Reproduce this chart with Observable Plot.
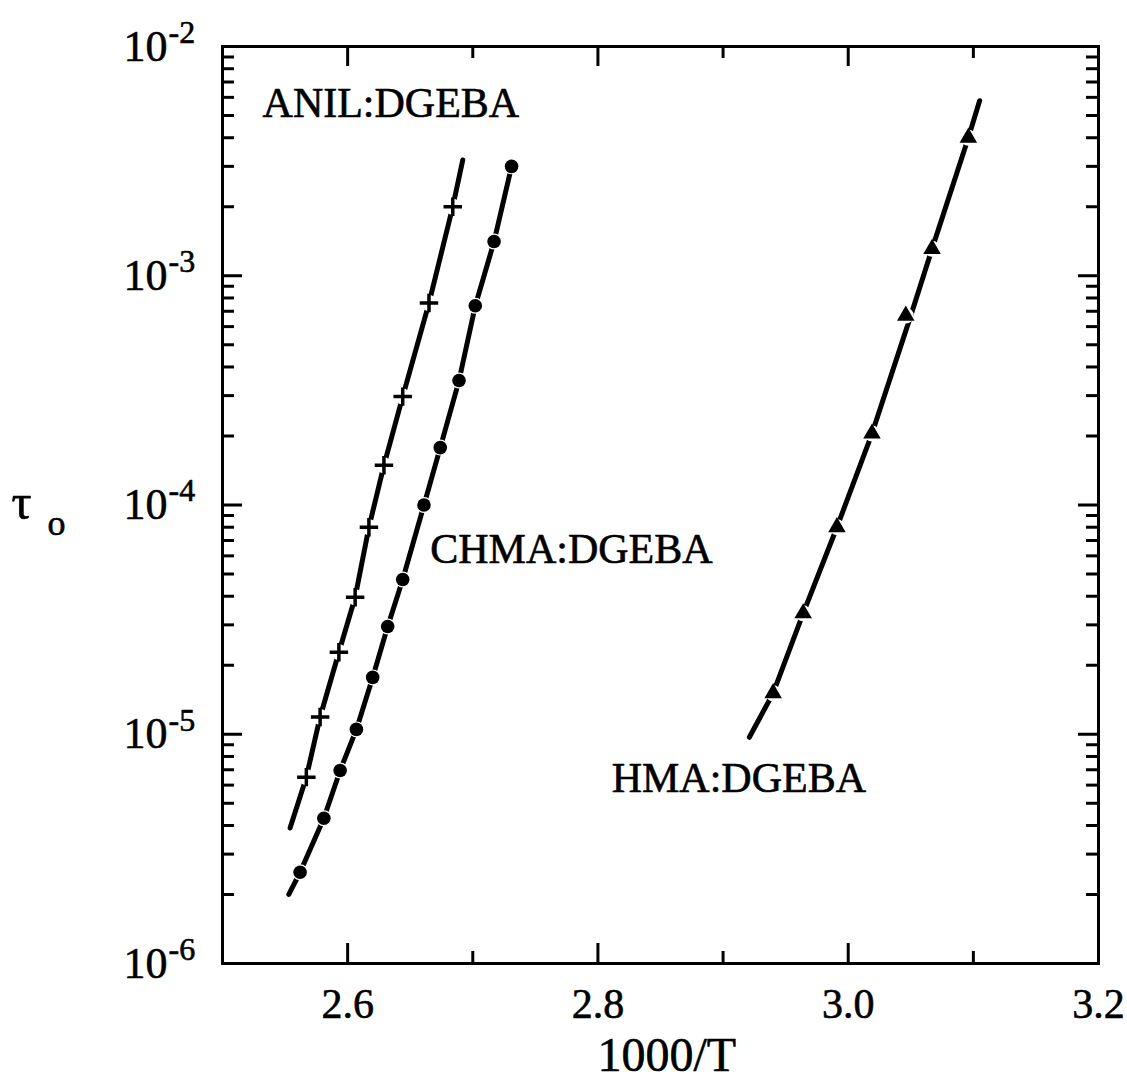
<!DOCTYPE html>
<html><head><meta charset="utf-8">
<script src="https://cdn.jsdelivr.net/npm/d3@7"></script>
<script src="https://cdn.jsdelivr.net/npm/@observablehq/plot@0.6"></script>
<style>body{margin:0;background:#fff} svg{display:block}</style>
</head><body><div id="chart"></div>
<script>
// ---- data ----
const anilX = [2.567, 2.578, 2.593, 2.606, 2.617, 2.629, 2.644, 2.665, 2.684];
const anilY = [6.5e-6, 1.19e-5, 2.28e-5, 3.96e-5, 8.0e-5, 1.49e-4, 2.97e-4, 7.6e-4, 2.0e-3];
const anilLineX = [2.554, 2.567, 2.578, 2.593, 2.606, 2.617, 2.629, 2.644, 2.665, 2.684, 2.692];
const anilLineY = [3.9e-6, 6.5e-6, 1.19e-5, 2.28e-5, 3.96e-5, 8.0e-5, 1.49e-4, 2.97e-4, 7.6e-4, 2.0e-3, 3.2e-3];

const chmaX = [2.562, 2.581, 2.594, 2.607, 2.620, 2.632, 2.644, 2.661, 2.674, 2.689, 2.702, 2.717, 2.731];
const chmaY = [2.5e-6, 4.3e-6, 6.95e-6, 1.05e-5, 1.77e-5, 2.95e-5, 4.73e-5, 1.0e-4, 1.78e-4, 3.49e-4, 7.4e-4, 1.41e-3, 3.0e-3];
const chmaLineX = [2.553, 2.562, 2.581, 2.594, 2.607, 2.620, 2.632, 2.644, 2.661, 2.674, 2.689, 2.702, 2.717, 2.731];
const chmaLineY = [2.0e-6, 2.5e-6, 4.3e-6, 6.95e-6, 1.05e-5, 1.77e-5, 2.95e-5, 4.73e-5, 1.0e-4, 1.78e-4, 3.49e-4, 7.4e-4, 1.41e-3, 3.0e-3];

const hmaX = [2.940, 2.964, 2.991, 3.019, 3.046, 3.067, 3.096];
const hmaY = [1.51e-5, 3.37e-5, 8.0e-5, 2.05e-4, 6.7e-4, 1.31e-3, 4.0e-3];
const hmaLineX = [2.921, 2.940, 2.964, 2.991, 3.019, 3.050, 3.067, 3.096, 3.105];
const hmaLineY = [9.7e-6, 1.51e-5, 3.37e-5, 8.0e-5, 2.05e-4, 6.7e-4, 1.31e-3, 4.0e-3, 5.8e-3];

const seriesNames = ["ANIL:DGEBA", "CHMA:DGEBA", "HMA:DGEBA"];
const labelX = [2.532, 2.666, 2.811];
const labelY = [5.64e-3, 6.4e-5, 6.44e-6];

// ticks and tick labels
const xMajorTicks = [2.6, 2.8, 3.0];
const xMinorTicks = [2.7, 2.9, 3.1];
const xLabelValues = [2.6, 2.8, 3.0, 3.2];
const xLabels = ["2.6", "2.8", "3.0", "3.2"];
const yMajorTicks = [1e-5, 1e-4, 1e-3];
const yMinorTicks = [];
for (let e = -6; e < -2; e++) for (let m = 2; m <= 9; m++) yMinorTicks.push(m * Math.pow(10, e));
const yLabelValues = [1e-6, 1e-5, 1e-4, 1e-3, 1e-2];
const yLabelBase = ["10", "10", "10", "10", "10"];
const yLabelExp = ["-6", "-5", "-4", "-3", "-2"];
const xTitle = "1000/T";
const xTitleAt = 2.855;
const yTitle = "τ";
const yTitleSub = "o";
const yTitleAt = 1e-4;

// ---- layout ----
const W = 1127, H = 1081;
const mL = 222, mR = 29, mT = 46, mB = 118;
const pw = W - mL - mR, ph = H - mT - mB;
const font = "'Liberation Serif', 'Times New Roman', serif";
const majLen = 20, minLen = 12, tw = 3;
const ts = {fill: "black", stroke: "black", strokeWidth: 0.6};

const pts = (xs, ys) => xs.map((x, i) => ({x, y: ys[i]}));
const anil = pts(anilX, anilY), chma = pts(chmaX, chmaY), hma = pts(hmaX, hmaY);
const allMarkers = [...anil, ...chma, ...hma];
const labels = seriesNames.map((t, i) => ({t, x: labelX[i], y: labelY[i]}));
const yl = yLabelValues.map((v, i) => ({v, b: yLabelBase[i], e: yLabelExp[i]}));
const xl = xLabelValues.map((v, i) => ({v, t: xLabels[i]}));

const plot = Plot.plot({
  width: W, height: H,
  marginLeft: mL, marginRight: mR, marginTop: mT, marginBottom: mB,
  style: {fontFamily: font, background: "white", color: "black", overflow: "visible"},
  x: {domain: [2.5, 3.2], axis: null},
  y: {type: "log", domain: [1e-6, 1e-2], axis: null},
  marks: [
    // ticks, inward on all four sides
    Plot.ruleX(xMajorTicks, {x: d => d, insetTop: ph - majLen, stroke: "black", strokeWidth: tw}),
    Plot.ruleX(xMinorTicks, {x: d => d, insetTop: ph - minLen, stroke: "black", strokeWidth: tw}),
    Plot.ruleX(xMajorTicks, {x: d => d, insetBottom: ph - majLen, stroke: "black", strokeWidth: tw}),
    Plot.ruleX(xMinorTicks, {x: d => d, insetBottom: ph - minLen, stroke: "black", strokeWidth: tw}),
    Plot.ruleY(yMajorTicks, {y: d => d, insetRight: pw - majLen, stroke: "black", strokeWidth: tw}),
    Plot.ruleY(yMinorTicks, {y: d => d, insetRight: pw - minLen, stroke: "black", strokeWidth: tw}),
    Plot.ruleY(yMajorTicks, {y: d => d, insetLeft: pw - majLen, stroke: "black", strokeWidth: tw}),
    Plot.ruleY(yMinorTicks, {y: d => d, insetLeft: pw - minLen, stroke: "black", strokeWidth: tw}),
    Plot.frame({stroke: "black", strokeWidth: 3}),

    // fitted lines
    Plot.line(pts(anilLineX, anilLineY), {x: "x", y: "y", stroke: "black", strokeWidth: 5, strokeLinecap: "round"}),
    Plot.line(pts(chmaLineX, chmaLineY), {x: "x", y: "y", stroke: "black", strokeWidth: 5, strokeLinecap: "round"}),
    Plot.line(pts(hmaLineX, hmaLineY), {x: "x", y: "y", stroke: "black", strokeWidth: 5, strokeLinecap: "round"}),

    // white halos that break the lines around markers
    Plot.dot(allMarkers, {x: "x", y: "y", r: 8, fill: "white", stroke: "none"}),

    // markers
    Plot.dot(anil, {x: "x", y: "y", symbol: "plus", r: 6, stroke: "black", strokeWidth: 3.5}),
    Plot.dot(chma, {x: "x", y: "y", symbol: "circle", r: 6.8, fill: "black", stroke: "none"}),
    Plot.dot(hma, {x: "x", y: "y", symbol: "triangle", r: 6.5, fill: "black", stroke: "none"}),

    // series labels
    Plot.text(labels, {x: "x", y: "y", text: "t", textAnchor: "start", lineAnchor: "middle", fontSize: 42, ...ts}),

    // y tick labels 10^-n
    Plot.text(yl, {y: "v", frameAnchor: "left", text: "b", textAnchor: "end", lineAnchor: "middle", dx: -55, fontSize: 44, ...ts}),
    Plot.text(yl, {y: "v", frameAnchor: "left", text: "e", textAnchor: "start", lineAnchor: "middle", dx: -54, dy: -14, fontSize: 32, ...ts}),

    // x tick labels
    Plot.text(xl, {x: "v", frameAnchor: "bottom", text: "t", textAnchor: "middle", lineAnchor: "middle", dy: 41, fontSize: 42, ...ts}),

    // axis titles
    Plot.text([xTitle], {x: () => xTitleAt, frameAnchor: "bottom", text: d => d, textAnchor: "middle", lineAnchor: "bottom", dy: 107, fontSize: 48, ...ts}),
    Plot.text([yTitle], {y: () => yTitleAt, frameAnchor: "left", text: d => d, textAnchor: "start", lineAnchor: "middle", dx: -211, dy: -2, fontSize: 50, ...ts}),
    Plot.text([yTitleSub], {y: () => yTitleAt, frameAnchor: "left", text: d => d, textAnchor: "start", lineAnchor: "middle", dx: -175, dy: 18, fontSize: 36, ...ts})
  ]
});
document.getElementById("chart").appendChild(plot);
</script>
</body></html>
